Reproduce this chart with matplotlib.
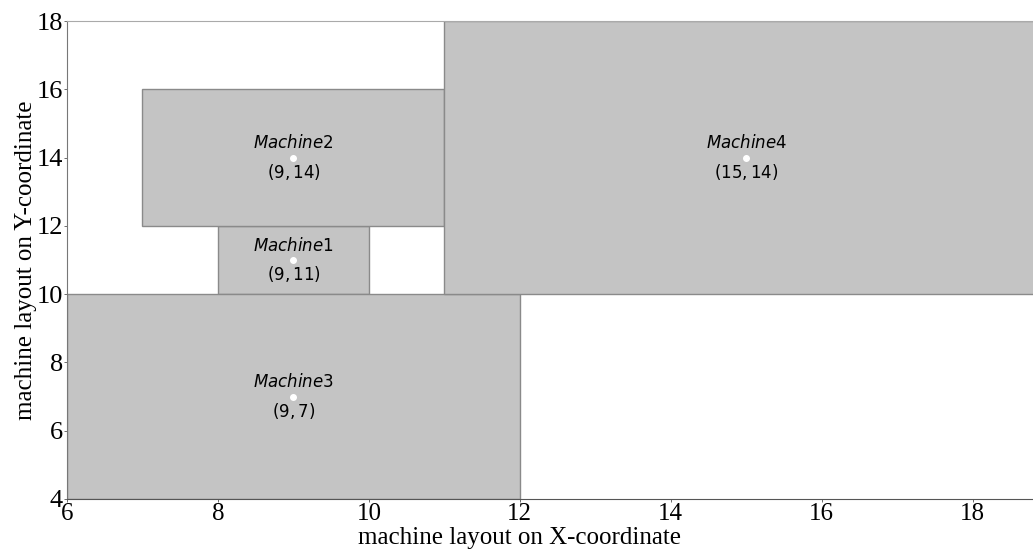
import matplotlib
matplotlib.use("Agg")
import matplotlib.pyplot as plt
from matplotlib.patches import Rectangle

# machine footprints: name, centre x, centre y, width, height
names = ["Machine1", "Machine2", "Machine3", "Machine4"]
cx = [9, 9, 9, 15]
cy = [11, 14, 7, 14]
widths = [2, 4, 6, 8]
heights = [2, 4, 6, 8]

xticks = [6, 8, 10, 12, 14, 16, 18]
yticks = [4, 6, 8, 10, 12, 14, 16, 18]

fig = plt.figure(figsize=(10.33, 5.49), dpi=100)
# axes run a little past the right edge of the figure
ax = fig.add_axes([0.0649, 0.0911, 0.9496, 0.8706])

for n, x, y, w, h in zip(names, cx, cy, widths, heights):
    ax.add_patch(Rectangle((x - w / 2, y - h / 2), w, h, facecolor="#c4c4c4",
                           edgecolor="#8a8a8a", lw=1.0, zorder=2))
    ax.plot(x, y, "o", color="white", ms=4, zorder=3)
    ax.text(x, y + 0.42, f"${n}$", ha="center", va="center", fontsize=12, zorder=4)
    ax.text(x, y - 0.42, f"$({x},{y})$", ha="center", va="center", fontsize=12, zorder=4)

ax.set_xlim(6, 19)
ax.set_ylim(4, 18)
ax.set_xticks(xticks)
ax.set_yticks(yticks)
for lab in ax.get_xticklabels():
    lab.set_fontfamily("Liberation Serif")
    lab.set_fontsize(18)
for lab in ax.get_yticklabels():
    lab.set_fontfamily("Liberation Serif")
    lab.set_fontsize(19)
ax.tick_params(length=2, width=0.6, color="#555555", pad=1)

for side in ["top", "right"]:
    ax.spines[side].set_color("#aaaaaa")
ax.spines["left"].set_color("#777777")
ax.spines["bottom"].set_color("#555555")

ax.set_xlabel("machine layout on X-coordinate", fontfamily="Liberation Serif", fontsize=18)
ax.set_ylabel("machine layout on Y-coordinate", fontfamily="Liberation Serif", fontsize=18)
ax.xaxis.set_label_coords(0.461, -0.058)
ax.yaxis.set_label_coords(-0.031, 0.5)

fig.savefig("out.png", dpi=100)
